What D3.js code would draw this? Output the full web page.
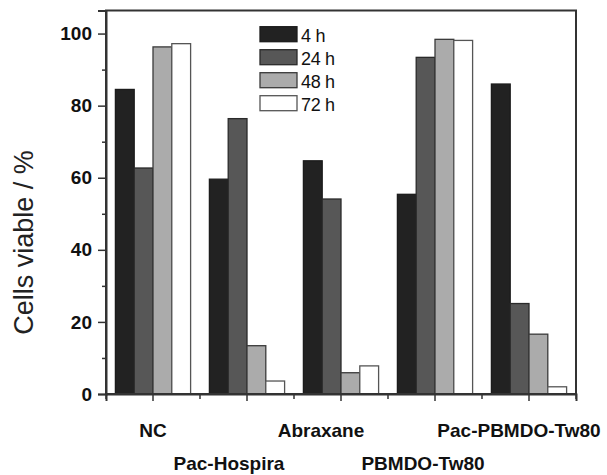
<!DOCTYPE html>
<html>
<head>
<meta charset="utf-8">
<script src="https://cdn.jsdelivr.net/npm/d3@7"></script>
<style>
  html, body { margin: 0; padding: 0; background: #fff; }
  svg { display: block; }
</style>
</head>
<body>
<svg id="chart" width="607" height="475"></svg>
<script>
// ---- data ----
const categories = ["NC", "Pac-Hospira", "Abraxane", "PBMDO-Tw80", "Pac-PBMDO-Tw80"];
const seriesNames = ["4 h", "24 h", "48 h", "72 h"];
const h4  = [84.5, 59.6, 64.7, 55.4, 86.0];
const h24 = [62.7, 76.4, 54.1, 93.4, 25.1];
const h48 = [96.3, 13.4, 5.9, 98.4, 16.6];
const h72 = [97.2, 3.6, 7.8, 98.1, 2.0];
const yTicks = [0, 20, 40, 60, 80, 100];
const yMinorTicks = [10, 30, 50, 70, 90];
const seriesValues = [h4, h24, h48, h72];

// ---- layout / style ----
const L = 106, R = 576, T = 10.5, B = 394;
const fills = ["#222222", "#575757", "#ababab", "#ffffff"];
const strokes = ["#1c1c1c", "#2a2a2a", "#3a3a3a", "#555555"];
const labelDx = [0, -18, -20, -12, -10];
const labelBaseline = [437, 470, 437, 470, 437];
const FONT = "Liberation Sans, Arial, Helvetica, sans-serif";

const svg = d3.select("#chart");

const x = d3.scaleBand().domain(categories).range([L, R]).paddingInner(0.2).paddingOuter(0.1);
const xs = d3.scaleBand().domain(d3.range(seriesNames.length)).range([0, x.bandwidth()]).padding(0);
const y = d3.scaleLinear().domain([0, 106.4]).range([B, T]);

// bars
const rows = categories.map((c, i) => ({ c, vals: seriesValues.map(s => s[i]) }));
const g = svg.append("g");
g.selectAll("g.grp").data(rows).join("g")
  .attr("class", "grp")
  .attr("transform", d => `translate(${x(d.c)},0)`)
  .selectAll("rect").data(d => d.vals.map((v, k) => ({ v, k }))).join("rect")
  .attr("x", d => xs(d.k))
  .attr("width", xs.bandwidth())
  .attr("y", d => y(d.v))
  .attr("height", d => B - y(d.v))
  .attr("fill", d => fills[d.k])
  .attr("stroke", d => strokes[d.k])
  .attr("stroke-width", 1.3);

// frame
svg.append("rect")
  .attr("x", L).attr("y", T).attr("width", R - L).attr("height", B - T)
  .attr("fill", "none").attr("stroke", "#333").attr("stroke-width", 2);

// y axis major
const yAxis = svg.append("g").attr("transform", `translate(${L},0)`)
  .call(d3.axisLeft(y).tickValues(yTicks).tickSize(8).tickPadding(6).tickFormat(d3.format("d")));
yAxis.select(".domain").attr("stroke", "#333").attr("stroke-width", 2);
yAxis.selectAll(".tick line").attr("stroke", "#333").attr("stroke-width", 1.5);
yAxis.selectAll(".tick text")
  .attr("font-family", FONT).attr("font-size", 19).attr("font-weight", "bold").attr("fill", "#111");
// y minor
svg.append("g").attr("transform", `translate(${L},0)`)
  .call(d3.axisLeft(y).tickValues(yMinorTicks).tickSize(4).tickFormat(""))
  .call(a => a.select(".domain").remove())
  .selectAll(".tick line").attr("stroke", "#333").attr("stroke-width", 1.5);

// x axis: ticks at category centres
const xAxis = svg.append("g").attr("transform", `translate(0,${B})`)
  .call(d3.axisBottom(x).tickSize(7).tickFormat(""));
xAxis.select(".domain").attr("stroke", "#333").attr("stroke-width", 2);
xAxis.selectAll(".tick line").attr("stroke", "#333").attr("stroke-width", 1.5);
// x minor ticks at category boundaries
const bounds = [L].concat(categories.slice(0, -1).map(c => x(c) + x.bandwidth() / 2 + x.step() / 2), [R]);
svg.append("g").selectAll("line").data(bounds).join("line")
  .attr("x1", d => d).attr("x2", d => d).attr("y1", B).attr("y2", B + 5)
  .attr("stroke", "#333").attr("stroke-width", 1.5);

// category labels (staggered)
svg.append("g").selectAll("text").data(categories).join("text")
  .attr("x", (d, i) => x(d) + x.bandwidth() / 2 + labelDx[i])
  .attr("y", (d, i) => labelBaseline[i])
  .attr("text-anchor", "middle")
  .attr("font-family", FONT).attr("font-size", 19).attr("font-weight", "bold").attr("fill", "#111")
  .text(d => d);

// y title
svg.append("text")
  .attr("transform", "translate(33,242.5) rotate(-90)")
  .attr("text-anchor", "middle")
  .attr("font-family", FONT).attr("font-size", 27).attr("fill", "#222")
  .text("Cells viable / %");

// legend
const leg = svg.append("g").selectAll("g").data(seriesNames).join("g")
  .attr("transform", (d, i) => `translate(260,${26.7 + i * 23})`);
leg.append("rect").attr("width", 37).attr("height", 15)
  .attr("fill", (d, i) => fills[i]).attr("stroke", (d, i) => strokes[i]).attr("stroke-width", 1.3);
leg.append("text").attr("x", 41).attr("y", 15.6)
  .attr("font-family", FONT).attr("font-size", 18).attr("letter-spacing", -0.3).attr("fill", "#111")
  .text(d => d);
</script>
</body>
</html>
